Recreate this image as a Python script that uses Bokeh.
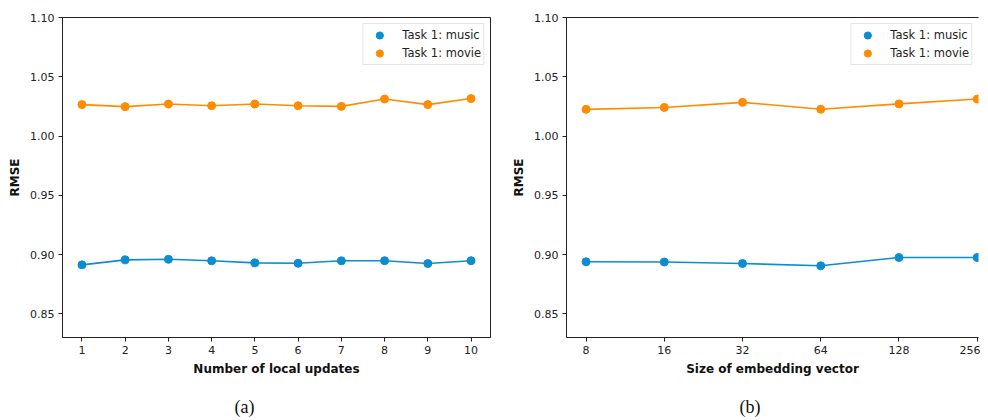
from bokeh.plotting import figure
from bokeh.layouts import row
from bokeh.models import FixedTicker, NumeralTickFormatter, Title, Range1d, LogAxis
from bokeh.embed import file_html
from bokeh.resources import INLINE

# ---- data ----
local_updates = [1, 2, 3, 4, 5, 6, 7, 8, 9, 10]
music_local = [0.8913, 0.8955, 0.8960, 0.8947, 0.8930, 0.8926, 0.8947, 0.8948, 0.8924, 0.8948]
movie_local = [1.0265, 1.0248, 1.0270, 1.0256, 1.0270, 1.0256, 1.0250, 1.0312, 1.0265, 1.0316]

embed_sizes = [8, 16, 32, 64, 128, 256]
music_embed = [0.8939, 0.8937, 0.8924, 0.8905, 0.8975, 0.8975]
movie_embed = [1.0225, 1.0241, 1.0284, 1.0226, 1.0271, 1.0312]

y_ticks = [0.85, 0.90, 0.95, 1.00, 1.05, 1.10]
series_labels = ["Task 1: music", "Task 1: movie"]
x_labels = ["Number of local updates", "Size of embedding vector"]
captions = ["(a)", "(b)"]

BLUE = "#0c8dd0"
ORANGE = "#ff8c00"
TICK_FONT = "DejaVu Sans"


def style(p, xlabel, caption, cap_offset):
    p.grid.visible = False
    p.background_fill_color = "white"
    p.border_fill_color = "white"
    p.y_range = Range1d(0.83, 1.10)
    p.yaxis.ticker = FixedTicker(ticks=y_ticks)
    p.yaxis.formatter = NumeralTickFormatter(format="0.00")
    p.yaxis.axis_label = "RMSE"
    p.xaxis.axis_label = xlabel
    for ax in (p.xaxis, p.yaxis):
        ax.major_label_text_font = TICK_FONT
        ax.major_label_text_font_size = "11px"
        ax.major_label_text_color = "#222222"
        ax.axis_label_text_font = TICK_FONT
        ax.axis_label_text_font_size = "12px"
        ax.axis_label_text_font_style = "bold"
        ax.axis_label_text_color = "#111111"
        ax.minor_tick_line_color = None
        ax.major_tick_in = 0
        ax.major_tick_out = 4
        ax.major_tick_line_color = "#222222"
        ax.axis_line_color = "#222222"
        ax.axis_label_standoff = 5
        ax.major_label_standoff = 4
    p.outline_line_color = "#222222"
    p.add_layout(Title(text=caption, text_font="Liberation Serif", text_font_size="18px",
                       text_font_style="normal", align="left", offset=cap_offset,
                       standoff=4, padding=dict(left=0, right=0, top=14, bottom=0),
                       text_color="#111111"), "below")


def add_series(p, xs, music, movie):
    p.line(xs, music, line_color=BLUE, line_width=1.6)
    p.line(xs, movie, line_color=ORANGE, line_width=1.6)
    p.scatter(xs, music, size=8, fill_color=BLUE, line_color=BLUE, legend_label=series_labels[0])
    p.scatter(xs, movie, size=8, fill_color=ORANGE, line_color=ORANGE, legend_label=series_labels[1])
    lg = p.legend[0]
    lg.location = "top_right"
    lg.margin = 6
    lg.padding = 2
    lg.spacing = 0
    lg.glyph_height = 18
    lg.label_height = 18
    lg.glyph_width = 28
    lg.label_standoff = 9
    lg.label_text_font = TICK_FONT
    lg.label_text_font_size = "11.5px"
    lg.label_text_color = "#222222"
    lg.border_line_color = "#cccccc"
    lg.background_fill_alpha = 0.85


# ---- panel (a) ----
pa = figure(width=500, height=420, output_backend="svg", toolbar_location=None,
            x_range=Range1d(0.55, 10.45),
            min_border_left=62, min_border_right=10, min_border_top=17, min_border_bottom=83)
add_series(pa, local_updates, music_local, movie_local)
style(pa, x_labels[0], captions[0], 172)
pa.xaxis.ticker = FixedTicker(ticks=local_updates)

# ---- panel (b) ----
pb = figure(width=480, height=420, output_backend="svg", toolbar_location=None,
            x_axis_type="log", x_range=Range1d(6.727, 258.97),
            min_border_left=66, min_border_right=2, min_border_top=17, min_border_bottom=83)
add_series(pb, embed_sizes, music_embed, movie_embed)
style(pb, x_labels[1], captions[1], 173)
pb.xaxis.ticker = FixedTicker(ticks=embed_sizes)
pb.xaxis.formatter = NumeralTickFormatter(format="0")
pb.outline_line_color = None
top = LogAxis(ticker=FixedTicker(ticks=[]), axis_line_color="#222222",
              major_tick_line_color=None, minor_tick_line_color=None,
              major_label_text_font_size="0px")
pb.add_layout(top, "above")

layout = row(pa, pb, spacing=0)
open("out.html", "w").write(file_html(layout, INLINE))
